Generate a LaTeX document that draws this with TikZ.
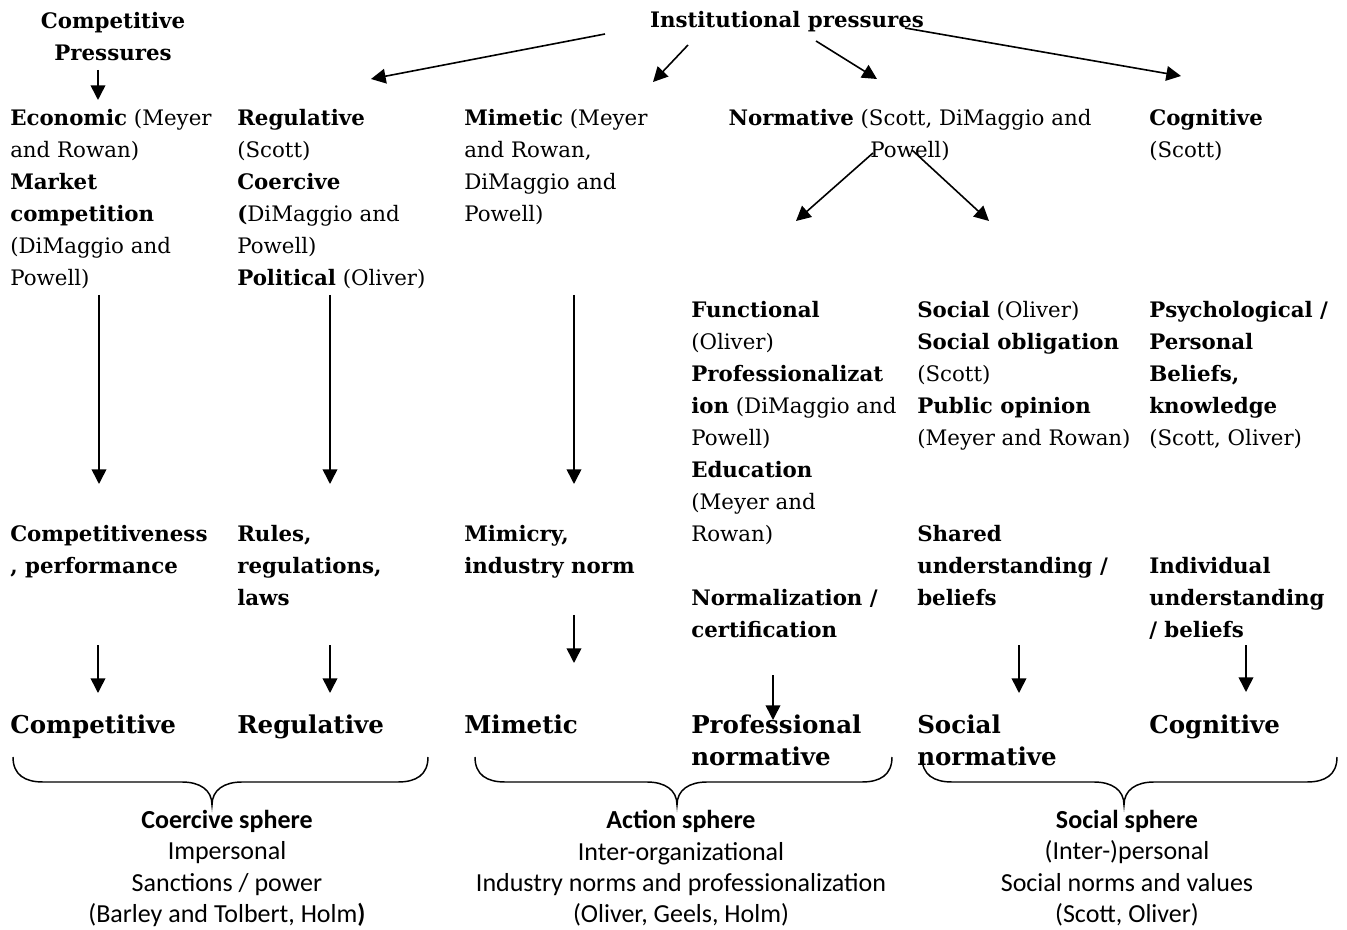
\documentclass[tikz,border=0pt]{standalone}
\usepackage{fontspec}
\setmainfont{DejaVu Serif}
\newfontfamily\spherefont{Carlito}
\usetikzlibrary{arrows.meta}

\tikzset{
  pressure/.style={inner sep=0pt, align=left, anchor=north west,
    font=\fontsize{16}{24}\selectfont, execute at begin node=\strut},
  mechanism/.style={pressure, font=\fontsize{16}{24}\selectfont\bfseries},
  outcome/.style={pressure, font=\fontsize{18.4}{24}\selectfont\bfseries},
  sphere/.style={inner sep=0pt, align=center, anchor=north,
    font=\spherefont\fontsize{19.5}{23.6}\selectfont, execute at begin node=\strut},
  arr/.style={line width=1.2pt, -{Triangle[length=11pt, width=11pt]}},
  bracestyle/.style={line width=1.1pt}
}

% left end, tip, right end
\newcommand{\spherebrace}[3]{%
  \draw[bracestyle] (#1,757) .. controls (#1,775) and (#1+12,782) .. (#1+30,782)
    -- (#2-30,782) .. controls (#2-12,782) and (#2,790) .. (#2,805)
    .. controls (#2,790) and (#2+12,782) .. (#2+30,782)
    -- (#3-30,782) .. controls (#3-12,782) and (#3,775) .. (#3,757);}

\begin{document}
\begin{tikzpicture}[x=0.75pt, y=-0.75pt]
\useasboundingbox (0,0) rectangle (1347,930);

% Header
\node[pressure, anchor=north, align=center] (comp) at (113,12) {\textbf{Competitive}\\\textbf{Pressures}};
\node[pressure, anchor=north] (inst) at (787,5) {\textbf{Institutional pressures}};

% Pressure types
\node[pressure] (econ) at (10,109) {\textbf{Economic} (Meyer\\and Rowan)\\\textbf{Market}\\\textbf{competition}\\(DiMaggio and\\Powell)};
\node[pressure] (regul) at (237,109) {\textbf{Regulative}\\(Scott)\\\textbf{Coercive}\\\textbf{(}DiMaggio and\\Powell)\\\textbf{Political} (Oliver)};
\node[pressure] (mimet) at (464,109) {\textbf{Mimetic} (Meyer\\and Rowan,\\DiMaggio and\\Powell)};
\node[pressure, anchor=north, align=center] (norm) at (910,109) {\textbf{Normative} (Scott, DiMaggio and\\Powell)};
\node[pressure] (cogn) at (1149,109) {\textbf{Cognitive}\\(Scott)};

% Normative split
\node[pressure] (funct) at (691,301) {\textbf{Functional}\\(Oliver)\\\textbf{Professionalizat}\\\textbf{ion} (DiMaggio and\\Powell)\\\textbf{Education}\\(Meyer and\\Rowan)};
\node[pressure] (soc) at (917,301) {\textbf{Social} (Oliver)\\\textbf{Social obligation}\\(Scott)\\\textbf{Public opinion}\\(Meyer and Rowan)};
\node[pressure] (psych) at (1149,301) {\textbf{Psychological /}\\\textbf{Personal}\\\textbf{Beliefs,}\\\textbf{knowledge}\\(Scott, Oliver)};

% Mechanisms
\node[mechanism] (compt) at (10,525) {Competitiveness\\, performance};
\node[mechanism] (rules) at (237,525) {Rules,\\regulations,\\laws};
\node[mechanism] (mimic) at (464,525) {Mimicry,\\industry norm};
\node[mechanism] (normal) at (691,589) {Normalization /\\certification};
\node[mechanism] (shared) at (917,525) {Shared\\understanding /\\beliefs};
\node[mechanism] (indiv) at (1149,557) {Individual\\understanding\\/ beliefs};

% Outcomes
\node[outcome] (compf) at (10,711) {Competitive};
\node[outcome] (regf) at (237,711) {Regulative};
\node[outcome] (mimf) at (464,711) {Mimetic};
\node[outcome] (prof) at (691,715) {Professional\\normative};
\node[outcome] (socf) at (917,715) {Social\\normative};
\node[outcome] (cogf) at (1149,711) {Cognitive};

% Spheres
\spherebrace{13}{212}{428}
\spherebrace{475}{677}{892}
\spherebrace{922}{1124}{1337}
\node[sphere] (coer) at (227,810) {\textbf{Coercive sphere}\\Impersonal\\Sanctions / power\\(Barley and Tolbert, Holm\textbf{)}};
\node[sphere] (action) at (681,810) {\textbf{Action sphere}\\Inter-organizational\\Industry norms and professionalization\\(Oliver, Geels, Holm)};
\node[sphere] (social) at (1127,810) {\textbf{Social sphere}\\(Inter-)personal\\Social norms and values\\(Scott, Oliver)};

% Arrow ends
\coordinate (c1) at (98,70);    \coordinate (c2) at (98,100);
\coordinate (i0) at (605,34);   \coordinate (i1) at (371,79);
\coordinate (i2) at (688,45);   \coordinate (i3) at (653,82);
\coordinate (i4) at (816,41);   \coordinate (i5) at (877,79);
\coordinate (i6) at (905,28);   \coordinate (i7) at (1181,76);
\coordinate (n0) at (873,153);  \coordinate (n1) at (796,221);
\coordinate (n2) at (912,150);  \coordinate (n3) at (989,221);
\coordinate (v1a) at (99,295);  \coordinate (v1b) at (99,484);
\coordinate (v2a) at (330,295); \coordinate (v2b) at (330,484);
\coordinate (v3a) at (574,295); \coordinate (v3b) at (574,484);
\coordinate (s1a) at (98,645);  \coordinate (s1b) at (98,693);
\coordinate (s2a) at (330,645); \coordinate (s2b) at (330,693);
\coordinate (s3a) at (574,615); \coordinate (s3b) at (574,663);
\coordinate (s4a) at (773,675); \coordinate (s4b) at (773,720);
\coordinate (s5a) at (1019,645); \coordinate (s5b) at (1019,693);
\coordinate (s6a) at (1246,645); \coordinate (s6b) at (1246,692);

\draw[arr] (c1) -- (c2);
\draw[arr] (i0) -- (i1);
\draw[arr] (i2) -- (i3);
\draw[arr] (i4) -- (i5);
\draw[arr] (i6) -- (i7);
\draw[arr] (n0) -- (n1);
\draw[arr] (n2) -- (n3);
\draw[arr] (v1a) -- (v1b);
\draw[arr] (v2a) -- (v2b);
\draw[arr] (v3a) -- (v3b);
\draw[arr] (s1a) -- (s1b);
\draw[arr] (s2a) -- (s2b);
\draw[arr] (s3a) -- (s3b);
\draw[arr] (s4a) -- (s4b);
\draw[arr] (s5a) -- (s5b);
\draw[arr] (s6a) -- (s6b);

\end{tikzpicture}
\end{document}
